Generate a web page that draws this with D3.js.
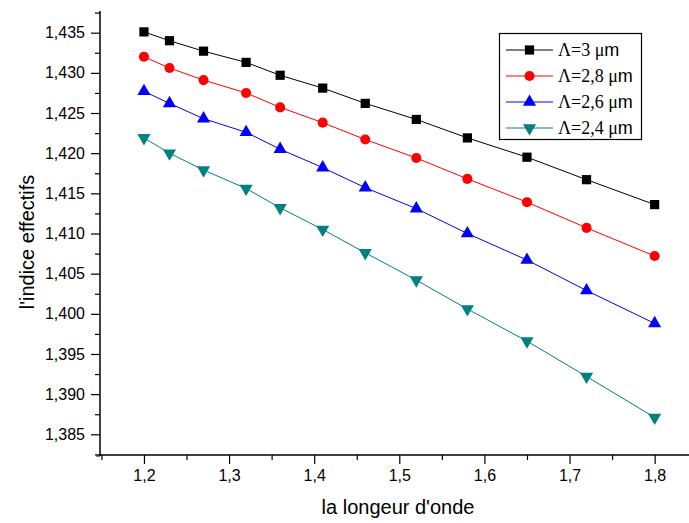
<!DOCTYPE html>
<html><head><meta charset="utf-8">
<script src="https://cdn.jsdelivr.net/npm/d3@7"></script>
<style>body{margin:0;background:#fff}</style>
</head><body><svg id="c" width="689" height="523"></svg>
<script>
const wavelengths = [1.2, 1.23, 1.27, 1.32, 1.36, 1.41, 1.46, 1.52, 1.58, 1.65, 1.72, 1.8];
const seriesNames = ["Λ=3 μ", "Λ=2,8 μ", "Λ=2,6 μ", "Λ=2,4 μ"];
const lambda30 = [1.4351, 1.4340, 1.4327, 1.4313, 1.4297, 1.4281, 1.4262, 1.4242, 1.4219, 1.4195, 1.4167, 1.4136];
const lambda28 = [1.4320, 1.4306, 1.4291, 1.4275, 1.4257, 1.4238, 1.4217, 1.4194, 1.4168, 1.4139, 1.4107, 1.4072];
const lambda26 = [1.4277, 1.4262, 1.4243, 1.4226, 1.4205, 1.4182, 1.4157, 1.4131, 1.4100, 1.4067, 1.4029, 1.3988];
const lambda24 = [1.4219, 1.4200, 1.4179, 1.4156, 1.4132, 1.4105, 1.4076, 1.4042, 1.4006, 1.3966, 1.3922, 1.3871];
const yTicks = [1.385, 1.390, 1.395, 1.400, 1.405, 1.410, 1.415, 1.420, 1.425, 1.430, 1.435];
const xTicks = [1.2, 1.3, 1.4, 1.5, 1.6, 1.7, 1.8];
const xLabel = "la longeur d'onde";
const yLabel = "l'indice effectifs";

const colors = ["#000000", "#ff0000", "#0000ff", "#008080"];
const symbols = [d3.symbolSquare, d3.symbolCircle, d3.symbolTriangle, d3.symbolTriangle];
const symSizes = [85, 80, 75, 75];
const rotations = [0, 0, 0, 180];
const allSeries = [lambda30, lambda28, lambda26, lambda24];

const svg = d3.select("#c");
const x = d3.scaleLinear().domain([1.15, 1.85]).range([101.4, 697.2]);
const y = d3.scaleLinear().domain([1.3823, 1.4377]).range([456, 11]);
const fmt = d => d3.format(".3f")(d).replace(".", ",");
const fmtx = d => d3.format(".1f")(d).replace(".", ",");

// Y axis
const yMinor = d3.range(1.3825, 1.4376, 0.005);
const gy = svg.append("g").attr("transform", "translate(100,0)");
gy.call(d3.axisLeft(y).tickValues(yMinor).tickSize(5).tickFormat("")).call(g => g.select(".domain").remove());
gy.append("g").call(d3.axisLeft(y).tickValues(yTicks).tickSize(9).tickPadding(6).tickFormat(fmt).tickSizeOuter(0));
gy.append("line").attr("x1", 0).attr("x2", 0).attr("y1", 11).attr("y2", 456).attr("stroke", "#000").attr("stroke-width", 1.5);
gy.append("line").attr("x1", -4).attr("x2", 0).attr("y1", 456).attr("y2", 456).attr("stroke", "#000");

// X axis
const xMinor = d3.range(1.15, 1.86, 0.1);
const gx = svg.append("g").attr("transform", "translate(0,455)");
gx.call(d3.axisBottom(x).tickValues(xMinor).tickSize(5).tickFormat("")).call(g => g.select(".domain").remove());
gx.append("g").call(d3.axisBottom(x).tickValues(xTicks).tickSize(9).tickPadding(6).tickFormat(fmtx).tickSizeOuter(0));
gx.append("line").attr("x1", 100).attr("x2", 689).attr("y1", 0).attr("y2", 0).attr("stroke", "#000").attr("stroke-width", 1.5);

svg.selectAll(".tick text").attr("font-family", "Liberation Sans, Arial, sans-serif").attr("font-size", 16).attr("fill", "#000");
svg.selectAll(".tick line").attr("stroke", "#000").attr("stroke-width", 1.2);
svg.selectAll(".domain").remove();

// Titles
svg.append("text").attr("x", 398).attr("y", 514).attr("text-anchor", "middle")
  .attr("font-family", "Liberation Sans, Arial, sans-serif").attr("font-size", 20).text(xLabel);
svg.append("text").attr("transform", "translate(34,242) rotate(-90)").attr("text-anchor", "middle")
  .attr("font-family", "Liberation Sans, Arial, sans-serif").attr("font-size", 20).text(yLabel);

// Series
const line = d3.line().x((d, i) => x(wavelengths[i])).y(d => y(d));
allSeries.forEach((s, k) => {
  svg.append("path").datum(s).attr("d", line).attr("fill", "none").attr("stroke", colors[k]).attr("stroke-width", 1);
  svg.append("g").selectAll("path").data(s).join("path")
    .attr("d", d3.symbol().type(symbols[k]).size(symSizes[k]))
    .attr("transform", (d, i) => `translate(${x(wavelengths[i])},${y(d)}) rotate(${rotations[k]})`)
    .attr("fill", colors[k]);
});

// Legend
const lg = svg.append("g");
lg.append("rect").attr("x", 499.5).attr("y", 33.5).attr("width", 142).attr("height", 106)
  .attr("fill", "#fff").attr("stroke", "#000").attr("stroke-width", 1.2);
const ly = [50, 76, 102, 128];
seriesNames.forEach((n, k) => {
  lg.append("line").attr("x1", 506).attr("x2", 553).attr("y1", ly[k]).attr("y2", ly[k]).attr("stroke", colors[k]);
  lg.append("path").attr("d", d3.symbol().type(symbols[k]).size(symSizes[k]))
    .attr("transform", `translate(529.5,${ly[k]}) rotate(${rotations[k]})`).attr("fill", colors[k]);
  const t = lg.append("text").attr("x", 558).attr("y", ly[k] + 6).attr("font-size", 18);
  t.append("tspan").attr("font-family", "Liberation Serif, Times New Roman, serif").text(n);
  t.append("tspan").attr("font-family", "Liberation Sans, Arial, sans-serif").text("m");
});
</script>
</body></html>
